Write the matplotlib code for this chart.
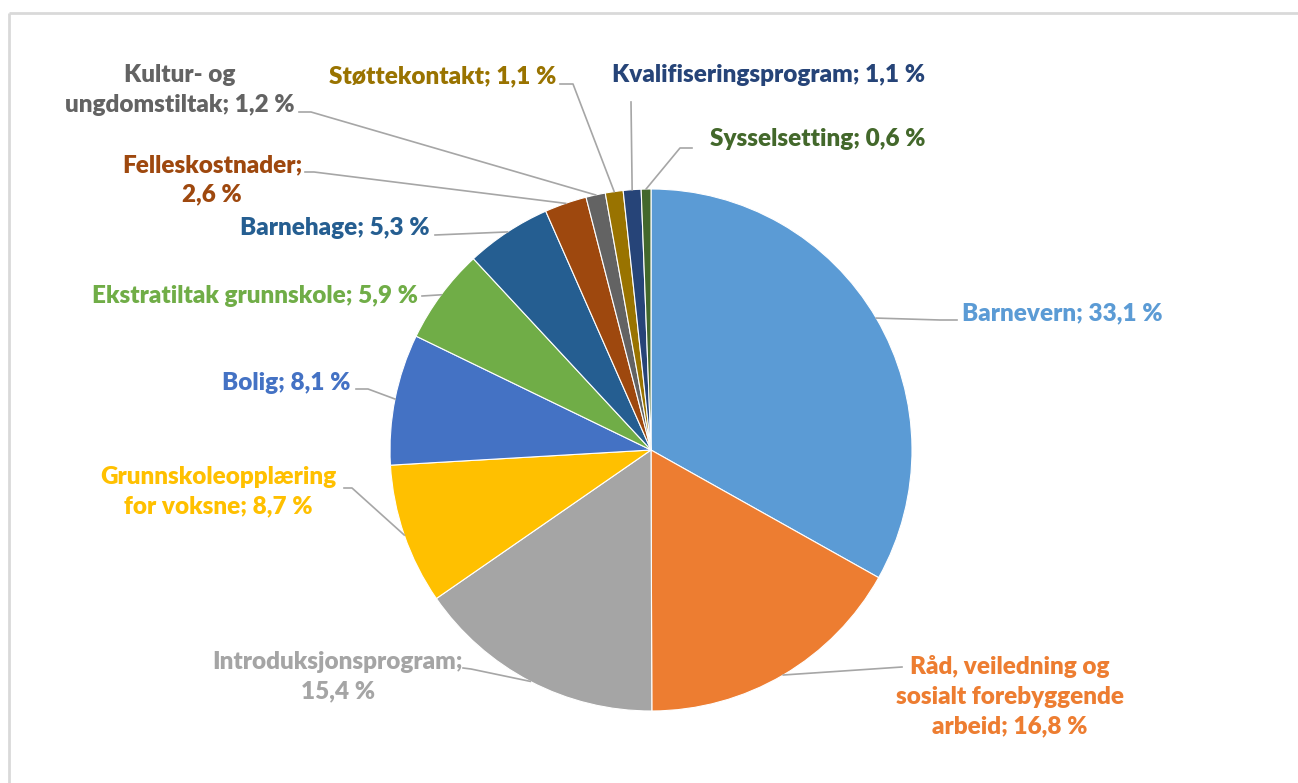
import matplotlib.pyplot as plt
import numpy as np

# Data
kategorier = ['Barnevern', 'Råd, veiledning og\nsosialt forebyggende\narbeid', 'Introduksjonsprogram;\n',
              'Grunnskoleopplæring\nfor voksne', 'Bolig', 'Ekstratiltak grunnskole', 'Barnehage',
              'Felleskostnader;\n', 'Kultur- og\nungdomstiltak', 'Støttekontakt',
              'Kvalifiseringsprogram', 'Sysselsetting']
andeler = [33.1, 16.8, 15.4, 8.7, 8.1, 5.9, 5.3, 2.6, 1.2, 1.1, 1.1, 0.6]
farger = ['#5B9BD5', '#ED7D31', '#A5A5A5', '#FFC000', '#4472C4', '#70AD47', '#255E91',
          '#9E480E', '#636363', '#997300', '#264478', '#43682B']

W, H = 1298, 783
cx, cy, r = 651, 450, 261

def P(x, y):
    # pikselkoordinater (y nedover) -> akse-koordinater
    return x, H - y

# Etikettplassering: (tekst-x, tekst-y, ha, ankerpunkt for linje, knekkpunkt)
plassering = [
    (962, 313, 'left', (957, 320), (940, 320)),
    (1010, 696, 'center', (902, 667), None),
    (338, 677, 'center', (463, 668), (471, 669)),
    (218, 492, 'center', (344, 488), (352, 488)),
    (351, 383, 'right', (356, 389), (368, 389)),
    (418, 296, 'right', (422, 296), None),
    (430, 228, 'right', (435, 235), None),
    (212, 180, 'center', (305, 172), (314, 172)),
    (180, 90, 'center', (299, 112), (311, 112)),
    (556, 76, 'right', (560, 84), (573, 84)),
    (769, 75, 'center', (631, 102), None),
    (925, 139, 'right', (692, 148), (680, 148)),
]

plt.rcParams['font.family'] = ['Lato', 'DejaVu Sans']

fig = plt.figure(figsize=(W / 100, H / 100), dpi=100)
ax = fig.add_axes([0, 0, 1, 1])

# Ramme rundt diagramområdet
ax.plot([9, W], [H - 13, H - 13], color='#D9D9D9', lw=2, solid_capstyle='butt')
ax.plot([9, 9], [H - 13, 0], color='#D9D9D9', lw=2, solid_capstyle='butt')

wedges, _ = ax.pie(andeler, colors=farger, startangle=90, counterclock=False,
                   center=P(cx, cy), radius=r, frame=True,
                   wedgeprops=dict(edgecolor='white', linewidth=0.8))
ax.set_xlim(0, W)
ax.set_ylim(0, H)
ax.axis('off')

for w, navn, verdi, farge, (tx, ty, ha, anker, knekk) in zip(
        wedges, kategorier, andeler, farger, plassering):
    vinkel = np.deg2rad((w.theta1 + w.theta2) / 2)
    kant = (cx + r * np.cos(vinkel), cy - r * np.sin(vinkel))
    punkter = [anker] + ([knekk] if knekk else []) + [kant]
    xs = [p[0] for p in punkter]
    ys = [H - p[1] for p in punkter]
    ax.plot(xs, ys, color='#A6A6A6', lw=1.2, zorder=1)

    verdi_tekst = f'{verdi:.1f} %'.replace('.', ',')
    if navn.endswith('\n'):
        tekst = navn + verdi_tekst
    else:
        tekst = f'{navn}; {verdi_tekst}'
    ax.text(*P(tx, ty), tekst, ha=ha, va='center', multialignment='center',
            color=farge, fontsize=17.5, fontweight='heavy', linespacing=1.42)

fig.savefig('out.png', dpi=100)
